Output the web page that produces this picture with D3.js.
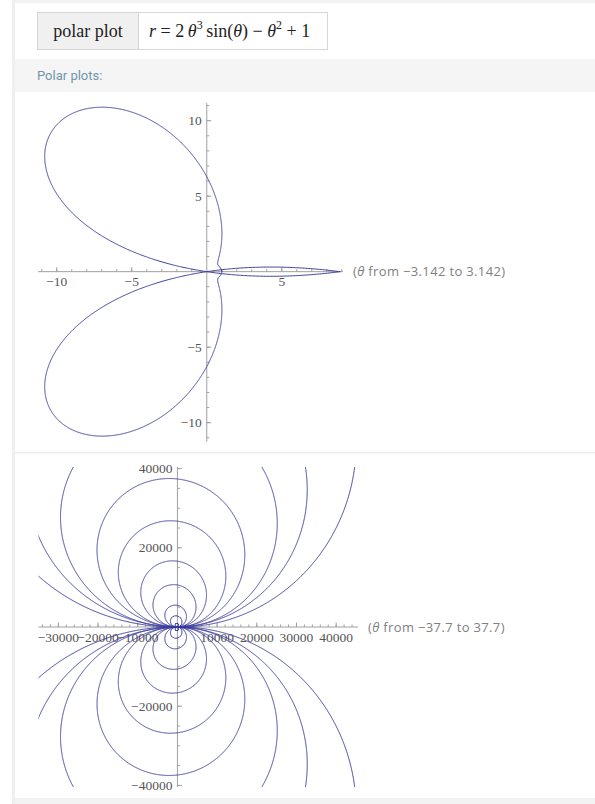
<!DOCTYPE html>
<html><head><meta charset="utf-8">
<script src="https://cdn.jsdelivr.net/npm/d3@7"></script>
<style>body{margin:0;background:#fff;} svg{display:block;}</style>
</head><body>
<script>
// r = a·θ³·sin(θ) + b·θ² + c  (as stated in the chart header)
const coefficients = [2, -1, 1];
const thetaRange1 = [-3.142, 3.142];
const thetaRange2 = [-37.7, 37.7];
const rangeLabel1 = ["−3.142", "3.142"];
const rangeLabel2 = ["−37.7", "37.7"];
const xTicks1 = [-10, -5, 5];
const yTicks1 = [10, 5, -5, -10];
const xTicks2 = [-30000, -20000, -10000, 10000, 20000, 30000, 40000];
const yTicks2 = [40000, 20000, -20000, -40000];
const xDomain1 = [-11.25, 9.08], yDomain1 = [-11.26, 11.17];
const xDomain2 = [-35000, 45500], yDomain2 = [-40400, 40400];
const minorStep1 = [1, 1], minorStep2 = [2000, 5000];

const W = 595, H = 804;
const svg = d3.select("body").append("svg").attr("width", W).attr("height", H);

// page frame
svg.append("rect").attr("x", 13).attr("y", 0).attr("width", W - 13).attr("height", 3).attr("fill", "#f3f3f3");
svg.append("rect").attr("x", 12).attr("y", 0).attr("width", 3).attr("height", H).attr("fill", "#efefef");
svg.append("rect").attr("x", 15).attr("y", 59).attr("width", W - 15).attr("height", 33).attr("fill", "#f5f5f5");
svg.append("rect").attr("x", 15).attr("y", 798).attr("width", W - 15).attr("height", 6).attr("fill", "#f3f3f3");
svg.append("rect").attr("x", 15).attr("y", 452).attr("width", W - 15).attr("height", 1.5).attr("fill", "#eeeeee");

// header box
const hb = svg.append("g");
hb.append("rect").attr("x", 37.5).attr("y", 12.5).attr("width", 101).attr("height", 37).attr("fill", "#f0f0f0");
hb.append("rect").attr("x", 37.5).attr("y", 12.5).attr("width", 290).attr("height", 37).attr("fill", "none").attr("stroke", "#d6d6d6");
hb.append("line").attr("x1", 138.5).attr("x2", 138.5).attr("y1", 12.5).attr("y2", 49.5).attr("stroke", "#d6d6d6");
hb.append("text").attr("x", 88).attr("y", 37).attr("text-anchor", "middle")
  .style("font-family", "'Liberation Serif', serif").style("font-size", "18px").attr("fill", "#222").text("polar plot");
const ft = hb.append("text").attr("x", 149).attr("y", 37)
  .style("font-family", "'Liberation Serif', serif").style("font-size", "18px").attr("fill", "#222");
const parts = [
  ["r", "italic", 0], [" = 2\u2009", "normal", 0], ["θ", "italic", 0], ["3", "normal", -8],
  ["\u2009sin(", "normal", 8], ["θ", "italic", 0], [") − ", "normal", 0], ["θ", "italic", 0],
  ["2", "normal", -8], [" + 1", "normal", 8]
];
parts.forEach(([t, st, dy]) => {
  const sp = ft.append("tspan").style("font-style", st).attr("dy", dy).text(t);
  if (dy < 0) sp.style("font-size", "12px");
});

svg.append("text").attr("x", 37).attr("y", 80)
  .style("font-family", "Roboto, sans-serif").style("font-size", "13px").attr("fill", "#6f95ad").text("Polar plots:");

const curveColor = "#3f3f9c";
const r = th => coefficients[0] * th * th * th * Math.sin(th) + coefficients[1] * th * th + coefficients[2];

function polarPlot(cfg) {
  const x = d3.scaleLinear().domain(cfg.xDomain).range(cfg.xRange);
  const y = d3.scaleLinear().domain(cfg.yDomain).range(cfg.yRange);
  const g = svg.append("g");
  const id = "clip" + cfg.id;
  svg.append("clipPath").attr("id", id).append("rect")
    .attr("x", cfg.xRange[0]).attr("y", cfg.yRange[1])
    .attr("width", cfg.xRange[1] - cfg.xRange[0]).attr("height", cfg.yRange[0] - cfg.yRange[1]);
  const x0 = x(0), y0 = y(0);
  const axisColor = "#a0a0a0", labelColor = "#555";
  // axes
  g.append("line").attr("x1", cfg.xRange[0]).attr("x2", cfg.xRange[1]).attr("y1", y0).attr("y2", y0)
    .attr("stroke", axisColor).attr("stroke-width", 1);
  g.append("line").attr("x1", x0).attr("x2", x0).attr("y1", cfg.yRange[1]).attr("y2", cfg.yRange[0])
    .attr("stroke", axisColor).attr("stroke-width", 1);
  // minor ticks
  const xm = d3.range(Math.ceil(cfg.xDomain[0] / cfg.minor[0]) * cfg.minor[0], cfg.xDomain[1], cfg.minor[0]).filter(v => v !== 0);
  const ym = d3.range(Math.ceil(cfg.yDomain[0] / cfg.minor[1]) * cfg.minor[1], cfg.yDomain[1], cfg.minor[1]).filter(v => v !== 0);
  g.selectAll(".xm").data(xm).join("line").attr("x1", d => x(d)).attr("x2", d => x(d))
    .attr("y1", y0).attr("y2", y0 - 2.5).attr("stroke", axisColor);
  g.selectAll(".ym").data(ym).join("line").attr("y1", d => y(d)).attr("y2", d => y(d))
    .attr("x1", x0).attr("x2", x0 + 2.5).attr("stroke", axisColor);
  g.selectAll(".xM").data(cfg.xTicks).join("line").attr("x1", d => x(d)).attr("x2", d => x(d))
    .attr("y1", y0).attr("y2", y0 - 4.5).attr("stroke", axisColor);
  g.selectAll(".yM").data(cfg.yTicks).join("line").attr("y1", d => y(d)).attr("y2", d => y(d))
    .attr("x1", x0).attr("x2", x0 + 4.5).attr("stroke", axisColor);
  const fmt = d => (d < 0 ? "−" : "") + Math.abs(d);
  g.selectAll(".xl").data(cfg.xTicks).join("text").attr("x", d => x(d)).attr("y", y0 + 14.5)
    .attr("text-anchor", "middle").style("font-family", "'Liberation Serif', serif").style("font-size", "13.5px")
    .attr("fill", labelColor).text(fmt);
  g.selectAll(".yl").data(cfg.yTicks).join("text").attr("x", x0 - 5).attr("y", d => y(d)).attr("dy", "0.33em")
    .attr("text-anchor", "end").style("font-family", "'Liberation Serif', serif").style("font-size", "13.5px")
    .attr("fill", labelColor).text(fmt);
  // curve
  const n = cfg.samples;
  const thetas = d3.range(n + 1).map(i => cfg.theta[0] + (cfg.theta[1] - cfg.theta[0]) * i / n);
  const line = d3.line().x(th => x(r(th) * Math.cos(th))).y(th => y(r(th) * Math.sin(th)));
  g.append("path").attr("d", line(thetas)).attr("fill", "none").attr("stroke", curveColor)
    .attr("stroke-width", 1).attr("clip-path", `url(#${id})`);
  // range label
  const lt = g.append("text").attr("x", cfg.xRange[1] + 10).attr("y", y0).attr("dy", "0.35em")
    .style("font-family", "'Open Sans', sans-serif").style("font-size", "13px")
    .style("letter-spacing", "0.35px").attr("fill", "#808080");
  lt.append("tspan").text("(");
  lt.append("tspan").style("font-style", "italic").text("θ");
  lt.append("tspan").text(` from ${cfg.rangeLabel[0]} to ${cfg.rangeLabel[1]})`);
}

polarPlot({ id: 1, xDomain: xDomain1, yDomain: yDomain1, xRange: [38, 343], yRange: [441.7, 103],
  xTicks: xTicks1, yTicks: yTicks1, minor: minorStep1, theta: thetaRange1, samples: 4000, rangeLabel: rangeLabel1 });
polarPlot({ id: 2, xDomain: xDomain2, yDomain: yDomain2, xRange: [38.5, 358], yRange: [787, 467],
  xTicks: xTicks2, yTicks: yTicks2, minor: minorStep2, theta: thetaRange2, samples: 40000, rangeLabel: rangeLabel2 });
</script>
</body></html>
